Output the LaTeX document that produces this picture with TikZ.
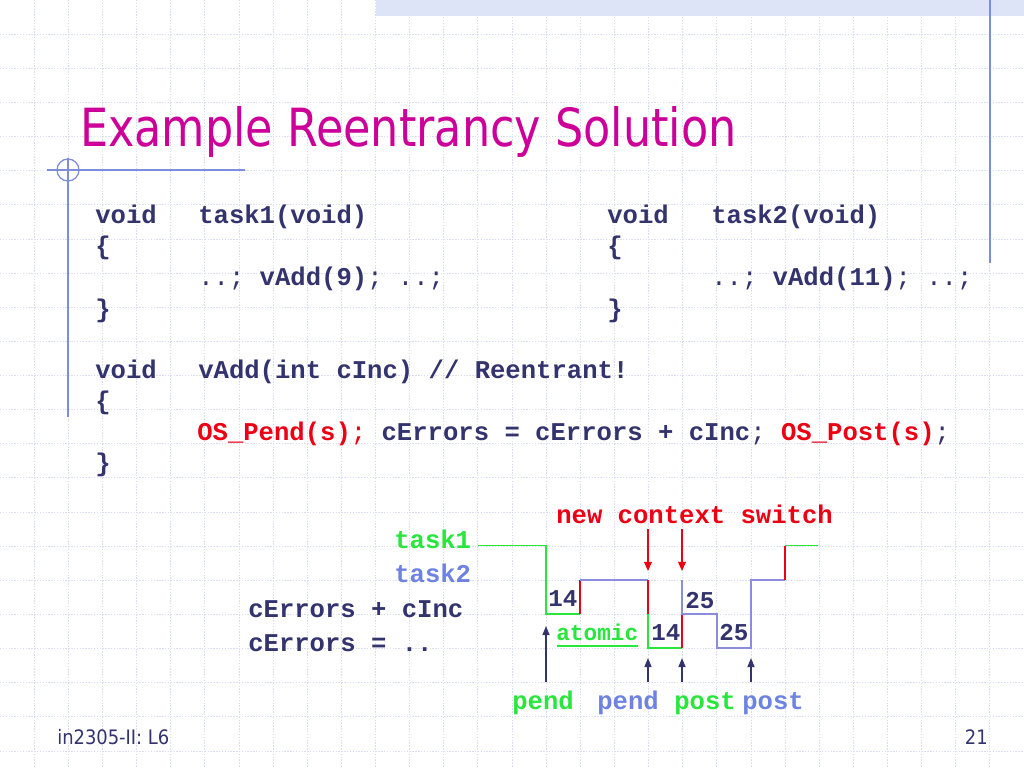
\documentclass[tikz,border=0pt]{standalone}
\usepackage{fontspec}
\setmonofont{Liberation Mono}
\newfontfamily\titlefont{DejaVu Sans Condensed}
\usetikzlibrary{arrows.meta}
\definecolor{navy}{RGB}{51,51,110}
\definecolor{ttl}{RGB}{204,0,153}
\definecolor{gridc}{RGB}{218,222,244}
\definecolor{bandc}{RGB}{221,228,248}
\definecolor{rulec}{RGB}{125,140,220}
\definecolor{grn}{RGB}{40,230,60}
\definecolor{blu}{RGB}{110,130,225}
\definecolor{redc}{RGB}{235,0,20}
\definecolor{lineblu}{RGB}{140,140,220}
\tikzset{
  code/.style={anchor=base west, inner sep=0pt, text=navy, font=\fontsize{18}{21.6}\selectfont\ttfamily\bfseries},
  num/.style={code, font=\fontsize{17}{20}\selectfont\ttfamily\bfseries},
  gridline/.style={draw=gridc, line width=0.6pt, dash pattern=on 1pt off 1pt},
  rule/.style={draw=rulec, line width=0.9pt},
  sig/.style={line width=0.8pt},
  uparrow/.style={draw=navy, line width=1pt, -{Triangle[length=6.5pt,width=5pt]}},
  downarrow/.style={draw=redc, line width=1pt, -{Triangle[length=6.5pt,width=5.5pt]}},
}
\begin{document}
\begin{tikzpicture}[x=0.703125pt,y=-0.703125pt]
\useasboundingbox[fill=white] (0,0) rectangle (1024,768);
% grid
\foreach \k in {1,...,29} {\draw[gridline] ({\k*34.1333},0) -- ({\k*34.1333},768);}
\foreach \k in {1,...,22} {\draw[gridline] (0,{\k*34.1333}) -- (1024,{\k*34.1333});}
% top band and rules
\fill[bandc] (376,0) rectangle (1024,16);
\draw[rule] (990,0) -- (990,263);
\draw[rule] (47,170) -- (245,170);
\draw[rule] (68,158) -- (68,417);
\draw[rule] (68,170) circle[radius=11];
% title
\node[anchor=base west, inner sep=0pt, text=ttl, font=\titlefont\fontsize{37}{44}\selectfont] (title) at (80,147) {\scalebox{0.94}[1]{Example Reentrancy Solution}};
% code
\node[code] (l1a) at (95,224) {void};
\node[code] (l1b) at (198,224) {task1(void)};
\node[code] (l2) at (95,255) {\{};
\node[code] (l3) at (198,286) {\mdseries..; \bfseries vAdd(9)\mdseries; ..;};
\node[code] (l4) at (95,317) {\}};
\node[code] (r1a) at (607,224) {void};
\node[code] (r1b) at (711,224) {task2(void)};
\node[code] (r2) at (607,255) {\{};
\node[code] (r3) at (711,286) {\mdseries..; \bfseries vAdd(11)\mdseries; ..;};
\node[code] (r4) at (607,317) {\}};
\node[code] (v1a) at (95,378) {void};
\node[code] (v1b) at (198,378) {vAdd(int cInc) // Reentrant!};
\node[code] (v2) at (95,409) {\{};
\node[code] (v3) at (197,440) {\textcolor{redc}{OS\_Pend(s)\mdseries;} cErrors = cErrors + cInc\mdseries; \bfseries\textcolor{redc}{OS\_Post(s)}\mdseries;};
\node[code] (v4) at (95,471) {\}};
% timing diagram labels
\node[code, text=redc] (ncs) at (556,523) {new context switch};
\node[code, text=grn] (t1) at (394,548) {task1};
\node[code, text=blu] (t2) at (394,582) {task2};
\node[code] (ce1) at (248,617) {cErrors + cInc};
\node[code] (ce2) at (248,651) {cErrors = ..};
\node[num] (n14a) at (548,606) {14};
\node[code, text=grn, font=\fontsize{16}{19}\selectfont\ttfamily\bfseries] (atomic) at (556,640) {atomic};
\draw[draw=grn, line width=1.5pt] (557,646) -- (638,646);
\node[num] (n14b) at (651,640) {14};
\node[num] (n25a) at (685,608) {25};
\node[num] (n25b) at (719,640) {25};
\node[code, text=grn] (p1) at (512,709) {pend};
\node[code, text=blu] (p2) at (597,709) {pend};
\node[code, text=grn] (p3) at (674,709) {post};
\node[code, text=blu] (p4) at (742,709) {post};
% signal
\draw[sig, grn] (478,545.7) -- (546,545.7) -- (546,614) -- (580,614);
\draw[sig, redc] (580,614) -- (580,580);
\draw[sig, lineblu] (580,580) -- (648,580);
\draw[sig, redc] (648,580) -- (648,614);
\draw[sig, grn] (648,614) -- (648,648) -- (682,648);
\draw[sig, redc] (682,648) -- (682,614);
\draw[sig, lineblu] (682,580) -- (682,614) -- (717,614) -- (717,648) -- (751,648) -- (751,580) -- (785,580);
\draw[sig, redc] (785,580) -- (785,545.7);
\draw[sig, grn] (785,545.7) -- (818,545.7);
% arrows
\coordinate (a1s) at (546,682); \coordinate (a1e) at (546,626);
\coordinate (a2s) at (648,682); \coordinate (a2e) at (648,658);
\coordinate (a3s) at (682,682); \coordinate (a3e) at (682,658);
\coordinate (a4s) at (751,682); \coordinate (a4e) at (751,658);
\coordinate (r1s) at (648,529); \coordinate (r1e) at (648,571);
\coordinate (r2s) at (682,529); \coordinate (r2e) at (682,571);
\draw[uparrow] (a1s) -- (a1e);
\draw[uparrow] (a2s) -- (a2e);
\draw[uparrow] (a3s) -- (a3e);
\draw[uparrow] (a4s) -- (a4e);
\draw[downarrow] (r1s) -- (r1e);
\draw[downarrow] (r2s) -- (r2e);
% footer
\node[anchor=base west, inner sep=0pt, text=navy, font=\titlefont\fontsize{14}{16}\selectfont] (foot) at (57,744) {in2305-II: L6};
\node[anchor=base east, inner sep=0pt, text=navy, font=\titlefont\fontsize{14}{16}\selectfont] (page) at (988,744) {21};
\end{tikzpicture}
\end{document}
